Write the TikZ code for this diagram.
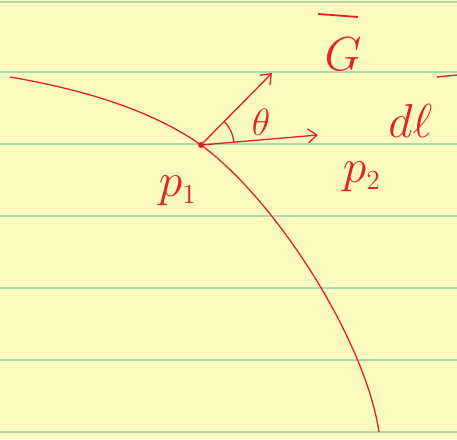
\documentclass[tikz,border=0pt]{standalone}
\usetikzlibrary{arrows.meta,calc}
\definecolor{paper}{RGB}{250,250,192}
\definecolor{rule}{RGB}{175,215,170}
\definecolor{ink}{RGB}{225,35,35}
\begin{document}
\begin{tikzpicture}[x=1pt,y=1pt,
  ruleline/.style={rule,line width=1.6pt},
  inkline/.style={ink,line width=1.3pt},
  vec/.style={inkline,-{Straight Barb[length=9pt,width=14pt]}},
  lbl/.style={ink,inner sep=0pt,font=\huge,scale=2.3}]
\fill[paper] (0,0) rectangle (457,439);
\useasboundingbox (0,0) rectangle (457,439);
\foreach \y in {437,367,295,223,151,79,7}
  \draw[ruleline] (0,\y) -- (457,\y);
\coordinate (P1) at (201,294);
\coordinate (Gtip) at (272,366);
\coordinate (P2tip) at (318,304);
\coordinate (cstart) at (10,362);
\coordinate (cend) at (379,7);
\draw[inkline] (cstart) .. controls (80,350) and (150,330) .. (P1)
  .. controls (275,240) and (365,100) .. (cend);
\fill[ink] (P1) circle (3pt);
\draw[vec] (P1) -- (Gtip);
\draw[vec] (P1) -- (P2tip);
\draw[inkline] ($(P1)+(5:33)$) arc (5:45:33);
\node[lbl,scale=0.8] (th) at (261,317) {$\theta$};
\node[lbl] (G) at (343,385) {$G$};
\draw[ink,line width=1.8pt] (318,425) -- (358,422);
\node[lbl,anchor=base west] (dl) at (388,301) {$d\ell$};
\draw[ink,line width=1.4pt] (437,362) -- (457,364);
\node[lbl] (p1) at (178,248) {$p_{\scriptscriptstyle 1}$};
\node[lbl] (p2) at (362,262) {$p_{\scriptscriptstyle 2}$};
\end{tikzpicture}
\end{document}
